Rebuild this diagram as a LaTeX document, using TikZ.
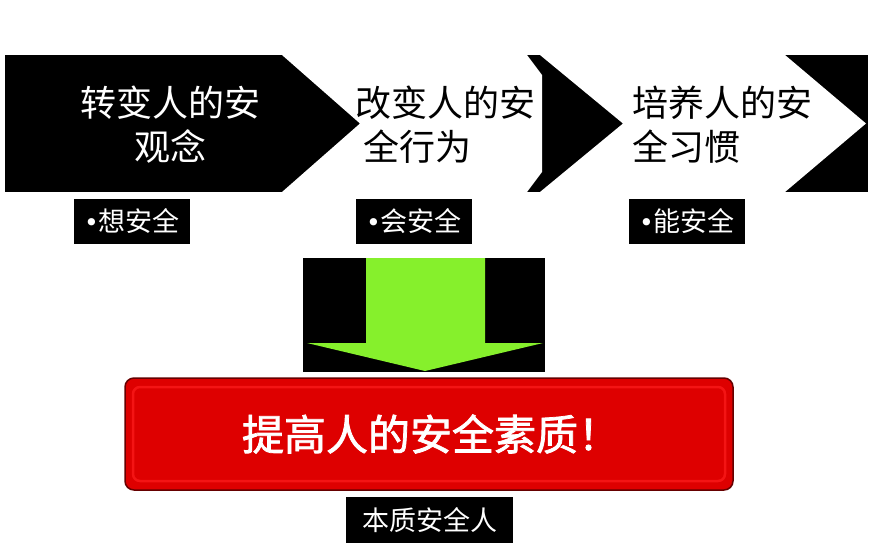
\documentclass[tikz,border=0pt]{standalone}
\usepackage{fontspec}
\newfontfamily\cjk{Noto Sans CJK SC}
\newfontfamily\cjkbold[FakeBold=1.8]{Noto Sans CJK SC}
\newfontfamily\dotfont{DejaVu Sans}
\newcommand{\tagdot}{{\dotfont\fontsize{25}{27}\selectfont •}}
\definecolor{arrowgreen}{RGB}{134,240,44}
\definecolor{boxred}{RGB}{222,0,0}
\definecolor{rimred}{RGB}{244,20,20}
\tikzset{
  steptext/.style={font=\cjk\fontsize{36}{44}\selectfont,inner sep=0pt},
  tag/.style={fill=black,text=white,font=\cjk\fontsize{27}{30}\selectfont,inner sep=0pt,minimum width=116pt,minimum height=45pt}
}
\begin{document}
\begin{tikzpicture}[x=1pt,y=-1pt]
    \useasboundingbox (0,0) rectangle (874,557);

    \fill (5,55) rectangle (868,192);
    \fill[white] (282,55) -- (527,55) -- (542,75) -- (542,172) -- (527,192) -- (282,192) -- (360,123.5) -- cycle;
    \fill[white] (540,55) -- (785,55) -- (866,123.5) -- (785,192) -- (540,192) -- (623,123.5) -- cycle;

    \node[steptext,text=white,align=center] (change) at (170,125) {转变人的安\\观念};
    \node[steptext,align=left,anchor=west] (behave) at (355,125) {改变人的安\\\hspace{8pt}全行为};
    \node[steptext,align=left,anchor=west] (habit) at (632,125) {培养人的安\\全习惯};

    \node[tag] (think) at (132,221.5) {\tagdot{}想安全};
    \node[tag] (know) at (414,221.5) {\tagdot{}会安全};
    \node[tag] (able) at (687,221) {\tagdot{}能安全};

    \fill (303,258) rectangle (545,372);
    \fill[arrowgreen] (366,258) -- (485,258) -- (485,343) -- (543,343) -- (425,371) -- (307,343) -- (366,343) -- cycle;

    \filldraw[fill=boxred,draw=black!60!red,line width=1.5pt,rounded corners=9pt] (125,378) rectangle (733,490);
    \draw[rimred,line width=2.5pt,rounded corners=7pt] (133,387) rectangle (725,481);
    \node[text=white,font=\cjkbold\fontsize{42}{46}\selectfont,inner sep=0pt] (goal) at (431,434) {提高人的安全素质！};

    \node[tag,minimum width=167pt,minimum height=46pt] (person) at (429.5,520) {本质安全人};
\end{tikzpicture}
\end{document}
